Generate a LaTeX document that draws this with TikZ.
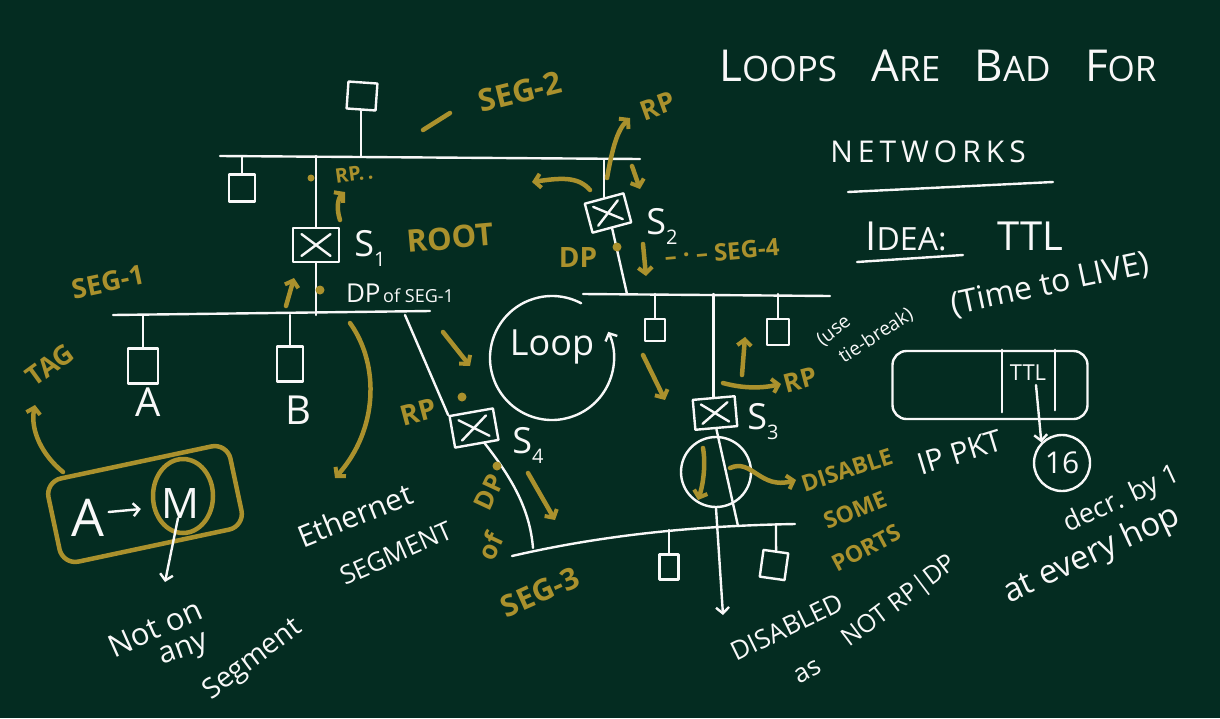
\documentclass[tikz,border=0pt]{standalone}
\usepackage{fontspec}
\setmainfont{Open Sans}
\usetikzlibrary{arrows.meta,calc,shapes.geometric}
\definecolor{board}{RGB}{4,44,33}
\definecolor{chalk}{RGB}{248,248,248}
\definecolor{ochre}{RGB}{170,145,45}
\newcommand\fs[1]{\fontsize{#1}{#1}\selectfont}
\newcommand\subx[1]{{\fs{20}\raisebox{-10pt}{#1}}}
\newcommand\swx[1]{\draw[wl] ($(#1.north west)!0.2!(#1.south east)$) -- ($(#1.north west)!0.8!(#1.south east)$) ($(#1.north east)!0.2!(#1.south west)$) -- ($(#1.north east)!0.8!(#1.south west)$);}
\tikzset{
  wl/.style={draw=chalk, line width=2.4pt, line cap=round, line join=round},
  yl/.style={draw=ochre, line width=4.5pt, line cap=round, line join=round},
  wa/.style={wl, -{Straight Barb[length=6pt,width=13pt,line width=2.4pt]}},
  ya/.style={yl, -{Straight Barb[length=6pt,width=14pt,line width=4pt]}},
  wt/.style={text=chalk, inner sep=0pt},
  yt/.style={text=ochre, inner sep=0pt, font=\bfseries},
  host/.style={wl, inner sep=0pt},
  switchbox/.style={wl, minimum width=44pt, minimum height=32pt, inner sep=0pt},
  ydot/.style={circle, fill=ochre, minimum size=9pt, inner sep=0pt},
}
\begin{document}
\begin{tikzpicture}[x=1pt,y=-1pt]
\path[use as bounding box, fill=board] (0,0) rectangle (1220,718);

% ---------- title and right-hand notes ----------
\node[wt, font={\fs{44}}] (title) at (938,66) {L{\fs{35}OOPS}\ \ \ A{\fs{35}RE}\ \ \ B{\fs{35}AD}\ \ \ F{\fs{35}OR}};
\node[wt, font={\fs{30}}] (netw) at (928,152) {N\,E\,T\,W\,O\,R\,K\,S};
\coordinate (nu1) at (848,192); \coordinate (nu2) at (1053,182);
\draw[wl] (nu1) -- (nu2);
\node[wt, font={\fs{40}}] (idea) at (906,236) {I{\fs{32}DEA:}};
\coordinate (iu1) at (857,262); \coordinate (iu2) at (963,255);
\draw[wl] (iu1) -- (iu2);
\node[wt, font={\fs{40}}] (ttlh) at (1030,236) {TTL};
\node[wt, font={\fs{32}}, rotate=12] (tlive) at (1050,285) {(Time to LIVE)};
\node[wt, font={\fs{19}}, rotate=38] (tie1) at (834,331) {(use};
\node[wt, font={\fs{19}}, rotate=33] (tie2) at (876,336) {tie-break)};

% IP packet
\node[wl, rounded corners=14pt, minimum width=195pt, minimum height=68pt] (ip) at (990,385) {};
\draw[wl] ([xshift=12pt]ip.north) -- ([xshift=12pt,yshift=8pt]ip.south);
\draw[wl] ([xshift=65pt]ip.north) -- ([xshift=65pt,yshift=10pt]ip.south);
\node[wt, font={\fs{22}}] (ttlf) at (1028,373) {TTL};
\node[wl, circle, minimum size=56pt, inner sep=0pt, text=chalk, font={\fs{30}}] (n16) at (1062,463) {16};
\draw[wa] ([xshift=8pt,yshift=-4pt]ttlf.south) -- (n16.north west);
\node[wt, font={\fs{30}}, rotate=17] (ippkt) at (960,452) {IP PKT};
\node[wt, font={\fs{27}}, rotate=25] (decr) at (1122,500) {decr. by 1};
\node[wt, font={\fs{33}}, rotate=25] (hop) at (1092,555) {at every hop};

% ---------- SEG-2 ----------
\coordinate (g2a) at (220,156); \coordinate (g2b) at (640,159);
\draw[wl] (g2a) -- (g2b);
\node[host, minimum width=29pt, minimum height=27pt, rotate=-4] (h21) at (362,96) {};
\draw[wl] (h21.south) -- (h21.south |- g2a);
\node[host, minimum width=26pt, minimum height=27pt] (h22) at (242,188) {};
\draw[wl] (h22.north) -- (h22.north |- g2a);

% ---------- S1 ----------
\node[switchbox, minimum width=46pt, minimum height=34pt] (s1) at (316,245) {};
\swx{s1}
\draw[wl] (s1.north) -- (s1.north |- g2a);
\node[wt, font={\fs{36}}] (s1l) at (370,248) {S\subx{1}};

% ---------- SEG-1 ----------
\coordinate (g1a) at (113,315); \coordinate (g1b) at (430,311);
\draw[wl] (g1a) -- (g1b);
\draw[wl] (s1.south) -- (s1.south |- g1a);
\node[host, minimum width=30pt, minimum height=35pt] (hA) at (143,366) {};
\draw[wl] (hA.north) -- (hA.north |- g1a);
\node[host, minimum width=26pt, minimum height=35pt] (hB) at (290,364) {};
\draw[wl] (hB.north) -- (hB.north |- g1a);
\node[wt, font={\fs{40}}] (lA) at (148,402) {A};
\node[wt, font={\fs{40}}] (lB) at (298,410) {B};
\node[wt] (dpseg1) at (400,293) {{\fs{26}DP} {\fs{18}of SEG-1}};

% ---------- S4 ----------
\coordinate (j1s4) at (405,315);
\node[switchbox, rotate=10] (s4) at (474,428) {};
\swx{s4}
\draw[wl] (j1s4) -- (s4.north west);
\node[wt, font={\fs{36}}] (s4l) at (528,445) {S\subx{4}};

% ---------- SEG-3 ----------
\coordinate (g3a) at (512,556); \coordinate (g3b) at (795,524);
\draw[wl] (g3a) .. controls (590,538) and (680,526) .. (g3b);
\coordinate (j3s4) at (533,548);
\draw[wl] (s4.-65) .. controls (515,482) and (530,512) .. (j3s4);
\coordinate (j31) at (669,530); \coordinate (j32) at (776,524); \coordinate (j3c) at (738,526);
\node[host, minimum width=19pt, minimum height=25pt] (h31) at (669,567) {};
\draw[wl] (h31.north) -- (j31);
\node[host, minimum width=25pt, minimum height=27pt, rotate=-8] (h32) at (774,565) {};
\draw[wl] (h32.north) -- (j32);

% ---------- S2 and SEG-4 ----------
\node[switchbox, minimum width=40pt, minimum height=30pt, rotate=15] (s2) at (608,213) {};
\swx{s2}
\draw[wl] (s2.north) -- (s2.north |- g2b);
\coordinate (g4a) at (583,294); \coordinate (g4b) at (830,296);
\draw[wl] (g4a) -- (g4b);
\coordinate (j4s2) at (627,294);
\draw[wl] (s2.south) -- (j4s2);
\node[wt, font={\fs{36}}] (s2l) at (662,226) {S\subx{2}};
\node[host, minimum width=20pt, minimum height=22pt] (h41) at (655,330) {};
\draw[wl] (h41.north) -- (h41.north |- g4a);
\node[host, minimum width=22pt, minimum height=26pt] (h42) at (778,332) {};
\draw[wl] (h42.north) -- (h42.north |- g4a);

% ---------- S3 ----------
\node[switchbox, minimum width=42pt, minimum height=30pt, rotate=5] (s3) at (715,413) {};
\swx{s3}
\draw[wl] (s3.north |- g4a) -- (s3.north);
\node[wt, font={\fs{36}}] (s3l) at (763,422) {S\subx{3}};
\node[wl, circle, minimum size=70pt, inner sep=0pt] (c3) at (716,472) {};
\draw[wl] (s3.south) -- (j3c);
\coordinate (dis) at (723,615);
\draw[wa] (c3.south) -- (dis);

% ---------- Loop ----------
\coordinate (loopc) at (552,358);
\node[wt, font={\fs{36}}] (loop) at (552,347) {Loop};
\draw[wa] ($(loopc)+(62:62pt)$) arc[start angle=62, end angle=385, radius=62pt];

% ---------- white notes ----------
\node[wt, font={\fs{30}}, rotate=22] (ether) at (355,515) {Ethernet};
\node[wt, font={\fs{26}}, rotate=24] (segm) at (396,553) {SEGMENT};
\node[wt, font={\fs{26}}, rotate=26] (disd) at (787,627) {DISABLED};
\node[wt, font={\fs{26}}, rotate=30] (asn) at (808,672) {as};
\node[wt, font={\fs{25}}, rotate=37] (notrp) at (900,602) {NOT RP|DP};
\node[wt, font={\fs{31}}, rotate=24] (noton) at (155,628) {Not on};
\node[wt, font={\fs{30}}, rotate=20] (anyt) at (185,652) {any};
\node[wt, font={\fs{28}}, rotate=37] (segt) at (253,660) {Segment};

% ---------- A -> M box ----------
\node[yl, rounded corners=16pt, minimum width=186pt, minimum height=85pt, rotate=12] (amb) at (145,504) {};
\node[wt, font={\fs{52}}] (la) at (88,518) {A};
\node[wt, font={\fs{42}}] (lm) at (180,503) {M};
\node[yl, ellipse, minimum width=60pt, minimum height=74pt] (cm) at (183,496) {};
\draw[wa] ([xshift=4pt,yshift=6pt]la.east) -- ([xshift=-20pt,yshift=-6pt]lm.west);
\coordinate (nots) at (165,582);
\draw[wa] ([xshift=-2pt]lm.south) -- (nots);

% ---------- yellow annotations ----------
\node[yt, font={\bfseries\fs{27}}, rotate=12] (seg1) at (108,282) {SEG-1};
\node[yt, font={\bfseries\fs{27}}, rotate=36] (tag) at (50,365) {TAG};
\coordinate (tg1) at (63,472); \coordinate (tg2) at (35,405);
\draw[ya] (tg1) .. controls (42,455) and (30,430) .. (tg2);

\node[ydot, minimum size=7pt] (rpd1) at (311,178) {};
\node[yt, font={\bfseries\fs{20}}, rotate=8] (rp1) at (354,174) {RP.\,.};
\coordinate (ua1) at (340,220); \coordinate (ub1) at (345,192);
\draw[ya] (ua1) .. controls (336,208) and (338,198) .. (ub1);
\coordinate (ua2) at (286,306); \coordinate (ub2) at (294,278);
\draw[ya] (ua2) -- (ub2);
\node[ydot] (dp1d) at (320,290) {};
\node[yt, font={\bfseries\fs{31}}, rotate=5] (root) at (450,238) {ROOT};

\coordinate (sd1) at (423,130); \coordinate (sd2) at (450,113);
\draw[yl] (sd1) -- (sd2);
\node[yt, font={\bfseries\fs{31}}, rotate=14] (seg2) at (520,92) {SEG-2};

\node[yt, font={\bfseries\fs{27}}, rotate=20] (rp2) at (658,106) {RP};
\coordinate (ra3) at (607,178); \coordinate (rb3) at (630,118);
\draw[ya] (ra3) .. controls (612,150) and (617,130) .. (rb3);
\coordinate (ra4) at (632,166); \coordinate (rb4) at (640,189);
\draw[ya] (ra4) -- (rb4);
\coordinate (ra5) at (590,190); \coordinate (rb5) at (532,182);
\draw[ya] (ra5) .. controls (578,176) and (560,178) .. (rb5);

\node[yt, font={\bfseries\fs{28}}] (dp2) at (578,258) {DP};
\node[ydot] (dp2d) at (617,247) {};
\coordinate (ra6) at (643,244); \coordinate (rb6) at (646,276);
\draw[ya] (ra6) -- (rb6);
\node[yt, font={\bfseries\fs{24}}, rotate=5] (seg4) at (722,252) {– · – SEG-4};

\coordinate (ra7) at (643,355); \coordinate (rb7) at (665,400);
\draw[ya] (ra7) -- (rb7);
\coordinate (ra8) at (723,383); \coordinate (rb8) at (781,384);
\draw[ya] (ra8) .. controls (745,389) and (763,388) .. (rb8);
\node[yt, font={\bfseries\fs{26}}, rotate=15] (rp3) at (800,380) {RP};
\coordinate (ra9) at (742,375); \coordinate (rb9) at (745,337);
\draw[ya] (ra9) -- (rb9);

\coordinate (ra10) at (703,448); \coordinate (rb10) at (698,500);
\draw[ya] (ra10) .. controls (706,465) and (703,485) .. (rb10);
\coordinate (ra11) at (730,468); \coordinate (rb11) at (796,480);
\draw[ya] (ra11) .. controls (752,458) and (760,490) .. (rb11);
\node[yt, font={\bfseries\fs{23}}, rotate=18] (disable) at (847,470) {DISABLE};
\node[yt, font={\bfseries\fs{23}}, rotate=22] (some) at (855,510) {SOME};
\node[yt, font={\bfseries\fs{23}}, rotate=28] (ports) at (866,548) {PORTS};

\node[ydot] (rpd4) at (462,397) {};
\node[yt, font={\bfseries\fs{28}}, rotate=15] (rp4) at (418,412) {RP};
\coordinate (ra12) at (443,332); \coordinate (rb12) at (470,366);
\draw[ya] (ra12) -- (rb12);

\node[ydot] (dp4d) at (497,466) {};
\node[yt, font={\bfseries\fs{26}}, rotate=65] (dp4) at (489,492) {DP};
\node[yt, font={\bfseries\fs{26}}, rotate=65] (of4) at (490,546) {of};
\coordinate (ra13) at (528,473); \coordinate (rb13) at (555,520);
\draw[ya] (ra13) -- (rb13);
\node[yt, font={\bfseries\fs{30}}, rotate=24] (seg3) at (540,592) {SEG-3};

\coordinate (ea1) at (350,323); \coordinate (eb1) at (335,478);
\draw[ya] (ea1) .. controls (380,365) and (378,430) .. (eb1);
\end{tikzpicture}
\end{document}
